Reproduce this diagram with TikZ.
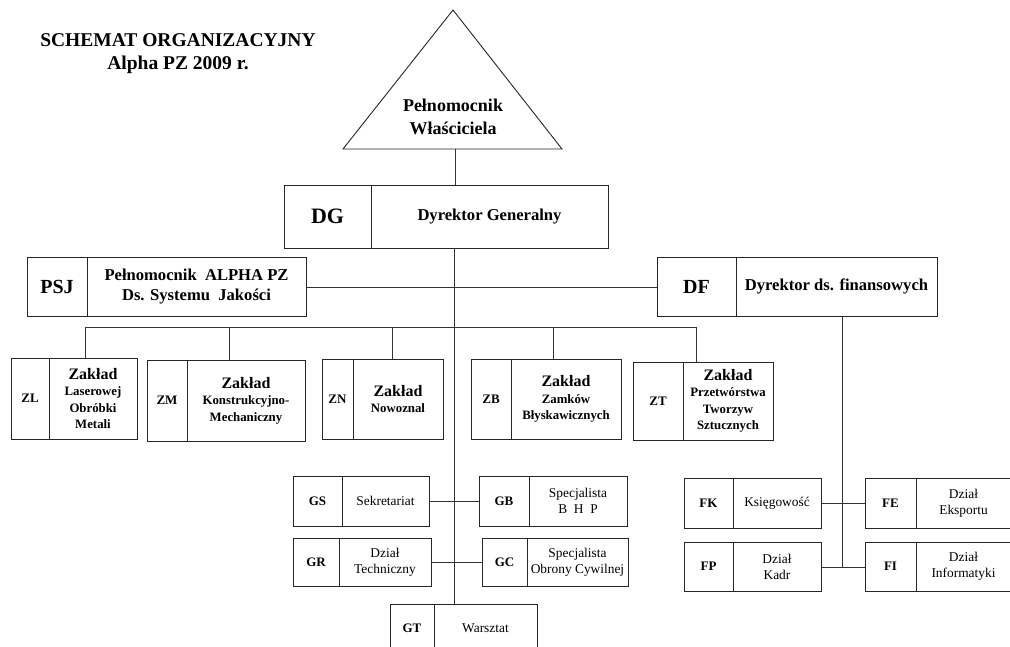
\documentclass[tikz,border=0pt]{standalone}
\usepackage{fontspec}
\setmainfont{Liberation Serif}
\newcommand\zakbig{\fontsize{16}{18}\selectfont}
\tikzset{
  frame/.style={draw=black!85, line width=0.9pt},
  link/.style={draw=black!80, line width=0.9pt},
  topcode/.style={font=\bfseries\fontsize{20}{22}\selectfont, align=center, inner sep=0pt},
  toptext/.style={font=\bfseries\fontsize{16.6}{19.5}\selectfont, align=center, inner sep=0pt},
  zakcode/.style={font=\bfseries\fontsize{13}{15}\selectfont, align=center, inner sep=0pt},
  zaktext/.style={font=\bfseries\fontsize{12.8}{16.5}\selectfont, align=center, inner sep=0pt},
  lowcode/.style={font=\bfseries\fontsize{13}{15}\selectfont, align=center, inner sep=0pt},
  lowtext/.style={font=\fontsize{13.4}{16}\selectfont, align=center, inner sep=0pt},
}
% #1 name, #2 x1, #3 divider x, #4 x2, #5 y1, #6 y2, #7 style family, #8 code, #9 text
\newcommand\obox[9]{%
  \node[frame, rectangle, minimum width={#4-#2}, minimum height={#6-#5}, anchor=north west, inner sep=0pt] (#1) at (#2,#5) {};
  \draw[frame] (#3,#5) -- (#3,#6);
  \node[#7code] (#1c) at ({(#2+#3)/2},{(#5+#6)/2}) {#8};
  \node[#7text] (#1t) at ({(#3+#4)/2},{(#5+#6)/2}) {#9};
}
\begin{document}
\begin{tikzpicture}[x=1pt, y=-1pt]
\useasboundingbox (0,0) rectangle (1010,646);
\fill[white] (0,0) rectangle (1010,646);

% title
\node[font=\bfseries\fontsize{19.5}{23}\selectfont, align=center, inner sep=0pt] (title) at (178,54) {SCHEMAT ORGANIZACYJNY\\Alpha PZ 2009 r.};

% triangle
\draw[frame] (453,10) -- (562,149) -- (343,149) -- cycle;
\node[font=\bfseries\fontsize{18}{23}\selectfont, align=center, inner sep=0pt] (tri) at (453,117) {Pełnomocnik\\Właściciela};
\coordinate (trib) at (455,149);

% top boxes
\obox{dg}{284}{371}{608}{185}{248}{top}{\fontsize{22}{24}\selectfont DG}{Dyrektor Generalny}
\obox{psj}{27}{87}{306}{257}{316}{top}{PSJ}{Pełnomocnik\ \ ALPHA PZ\\Ds. Systemu\ \ Jakości}
\obox{df}{657}{736}{937}{257}{316}{top}{DF}{Dyrektor ds. finansowych}

% Zaklad row
\obox{zl}{11}{49}{137}{358}{439}{zak}{ZL}{{\zakbig Zakład}\\Laserowej\\Obróbki\\Metali}
\obox{zm}{147}{187}{305}{360}{441}{zak}{ZM}{{\zakbig Zakład}\\Konstrukcyjno-\\Mechaniczny}
\obox{zn}{322}{353}{443}{359}{439}{zak}{ZN}{{\zakbig Zakład}\\Nowoznal}
\obox{zb}{471}{511}{621}{359}{439}{zak}{ZB}{{\zakbig Zakład}\\Zamków\\Błyskawicznych}
\obox{zt}{633}{683}{773}{362}{440}{zak}{ZT}{{\zakbig Zakład}\\Przetwórstwa\\Tworzyw\\Sztucznych}

% lower boxes
\obox{gs}{293}{342}{429}{476}{526}{low}{GS}{Sekretariat}
\obox{gb}{479}{529}{627}{476}{526}{low}{GB}{Specjalista\\B\ \ H\ \ P}
\obox{gr}{293}{339}{431}{538}{586}{low}{GR}{Dział\\Techniczny}
\obox{gc}{482}{527}{628}{538}{586}{low}{GC}{Specjalista\\Obrony Cywilnej}
\obox{gt}{390}{434}{537}{604}{652}{low}{GT}{Warsztat}
\obox{fk}{684}{733}{821}{478}{528}{low}{FK}{Księgowość}
\obox{fe}{865}{916}{1011}{478}{528}{low}{FE}{Dział\\Eksportu}
\obox{fp}{684}{733}{821}{542}{591}{low}{FP}{Dział\\Kadr}
\obox{fi}{865}{916}{1011}{542}{591}{low}{FI}{Dział\\Informatyki}

% connectors
\draw[link] (trib) -- (trib |- dg.north);
\coordinate (spine) at (454,248);
\draw[link] (spine) -- (spine |- gt.north);
\draw[link] (psj.east) -- (df.west);

\coordinate (bzl) at (85,327);
\coordinate (bzm) at (229,327);
\coordinate (bzn) at (392,327);
\coordinate (bzb) at (553,327);
\coordinate (bzt) at (696,327);
\draw[link] (bzl) -- (bzt);
\draw[link] (bzl) -- (bzl |- zl.north);
\draw[link] (bzm) -- (bzm |- zm.north);
\draw[link] (bzn) -- (bzn |- zn.north);
\draw[link] (bzb) -- (bzb |- zb.north);
\draw[link] (bzt) -- (bzt |- zt.north);

\draw[link] (gs.east) -- (gb.west);
\draw[link] (gr.east) -- (gc.west);

\coordinate (dfdrop) at (842,316);
\draw[link] (dfdrop) -- (dfdrop |- fp.east);
\draw[link] (fk.east) -- (fe.west);
\draw[link] (fp.east) -- (fi.west);
\end{tikzpicture}
\end{document}
